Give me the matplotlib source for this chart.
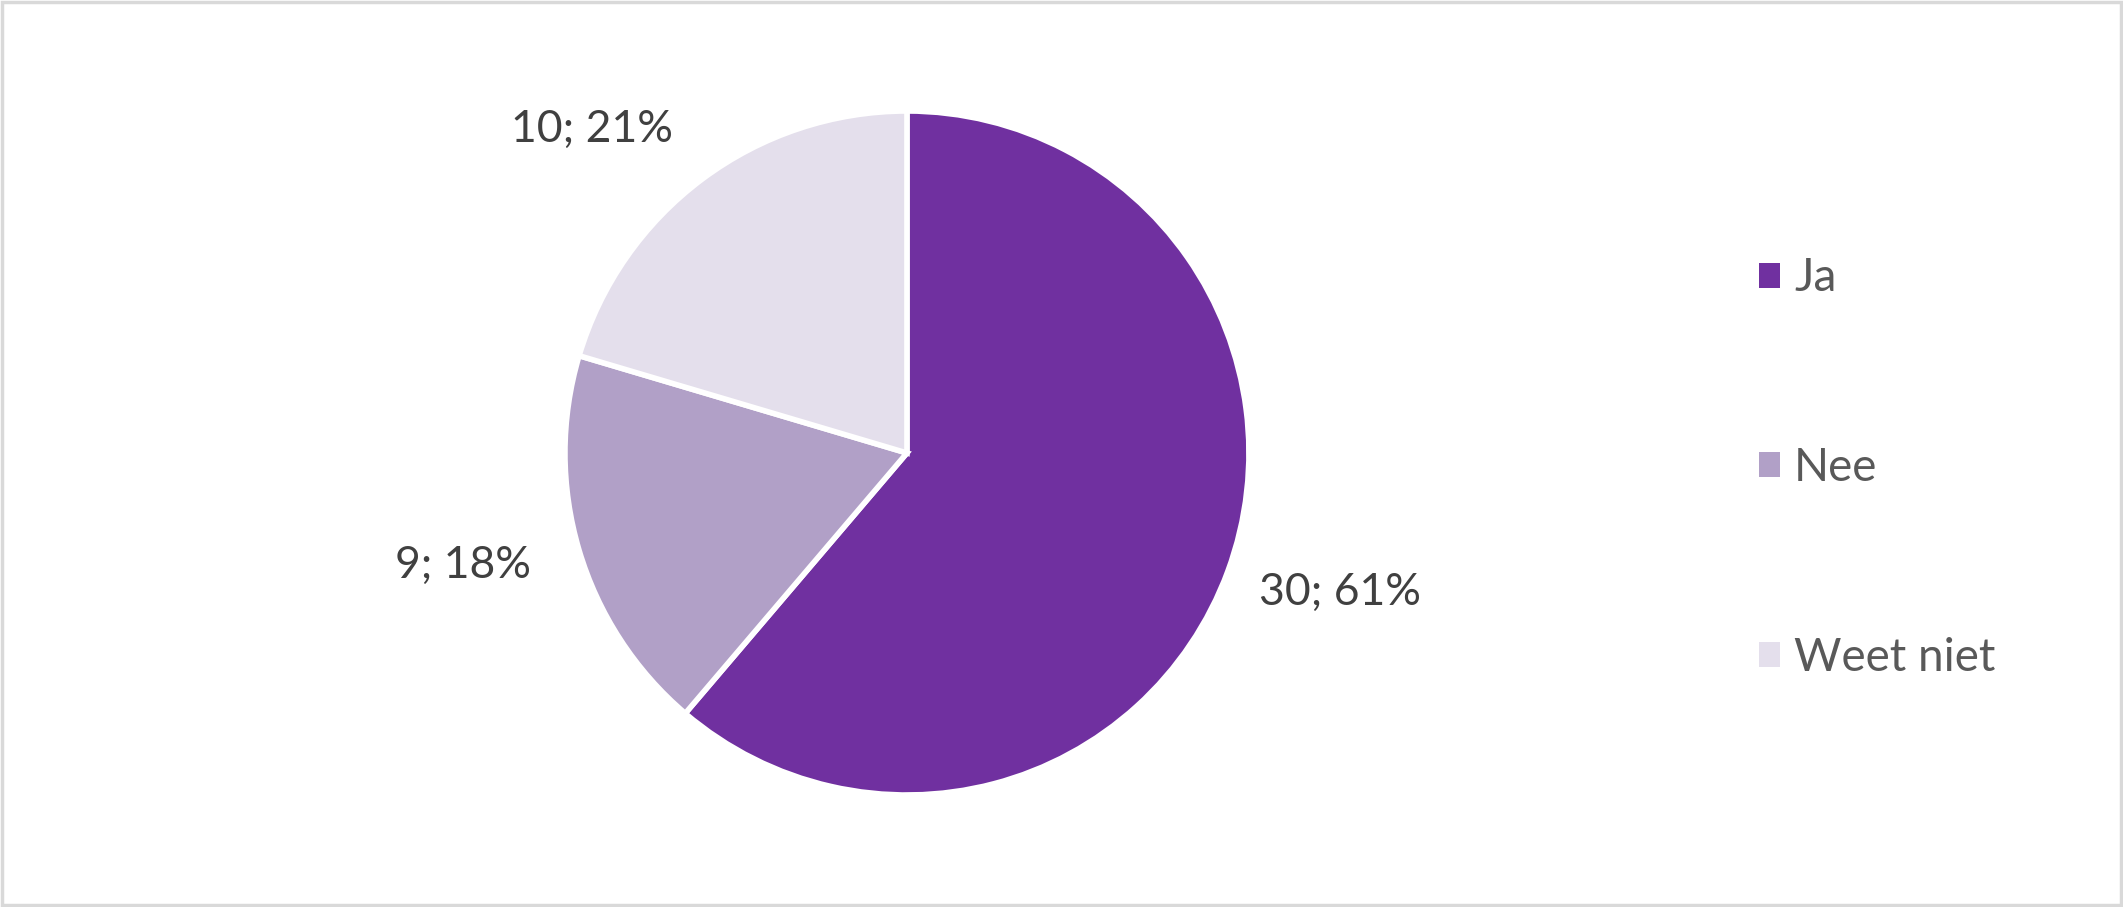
import matplotlib.pyplot as plt
from matplotlib.patches import Rectangle

categories = ['Ja', 'Nee', 'Weet niet']
counts = [30, 9, 10]
pct_labels = ['61%', '18%', '21%']
colors = ['#7030A0', '#B1A0C7', '#E4DFEC']

plt.rcParams['font.family'] = ['Lato', 'DejaVu Sans']

fig = plt.figure(figsize=(21.23, 9.07), dpi=100)
ax = fig.add_axes([0.2661, 0.1235, 0.3222, 0.7541])

wedges, _ = ax.pie(counts, colors=colors, startangle=90, counterclock=False,
                   wedgeprops=dict(edgecolor='white', linewidth=4))
ax.set_xlim(-1, 1)
ax.set_ylim(-1, 1)
ax.set_aspect('equal')

# label spots relative to the pie (radius units)
label_pos = [(1.266, -0.409), (-1.298, -0.330), (-0.921, 0.947)]
for (x, y), n, p in zip(label_pos, counts, pct_labels):
    ax.text(x, y, f'{n}; {p}', ha='center', va='center', fontsize=32,
            color='#404040', clip_on=False)

leg = fig.legend(wedges, categories, loc='center left',
                 bbox_to_anchor=(0.8093, 0.484), frameon=False, fontsize=33,
                 labelcolor='#595959', handlelength=0.46, handleheight=0.46,
                 handletextpad=0.3, labelspacing=3.22)
for h in leg.legend_handles:
    h.set_edgecolor('none')

fig.add_artist(Rectangle((0.001, 0.002), 0.998, 0.996, transform=fig.transFigure,
                         fill=False, edgecolor='#D9D9D9', linewidth=2.5))

fig.savefig('out.png', dpi=100)
